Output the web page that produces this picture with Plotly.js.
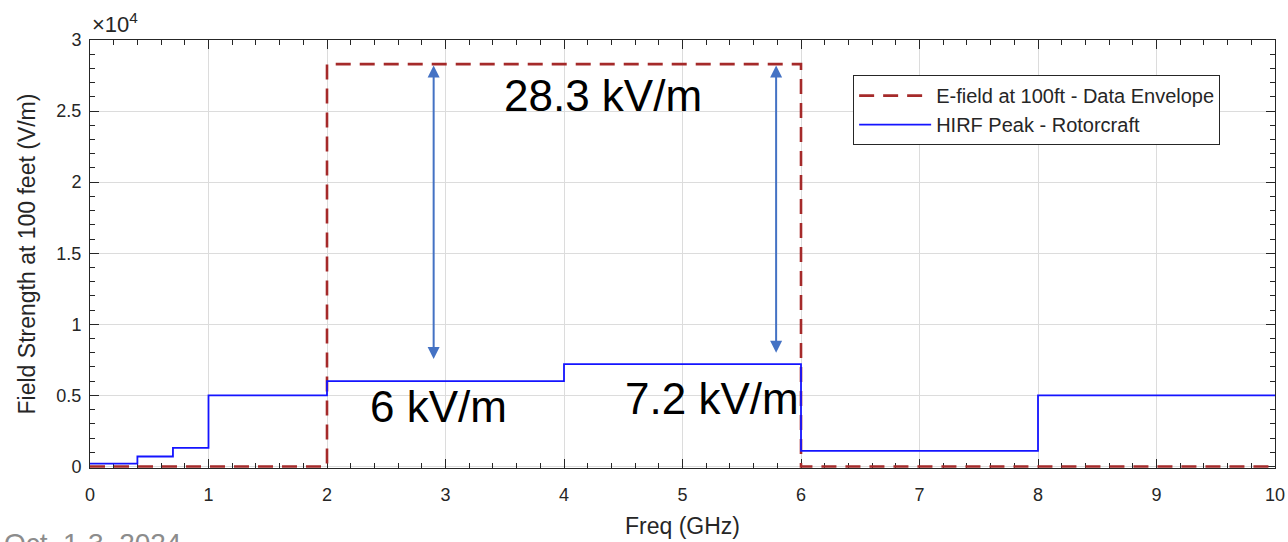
<!DOCTYPE html>
<html>
<head>
<meta charset="utf-8">
<script src="https://cdn.plot.ly/plotly-3.0.1.min.js"></script>
<style>html,body{margin:0;padding:0;background:#fff;}#chart{width:1288px;height:542px;}</style>
</head>
<body>
<div id="chart"></div>
<script>
// Data
const envelopeFreq = [0, 2, 6, 10];
const envelopeField = [0, 28300, 0, 0];
const hirfFreq = [0, 0.4, 0.7, 1, 2, 4, 6, 8, 10];
const hirfField = [200, 700, 1300, 5000, 6000, 7200, 1100, 5000, 5000];
const yTickVals = [0, 5000, 10000, 15000, 20000, 25000, 30000];
const yTickText = ['0', '0.5', '1', '1.5', '2', '2.5', '3'];
const xTickVals = [0,1,2,3,4,5,6,7,8,9,10];

const axisColor = '#262626';
const traces = [
  {x: envelopeFreq, y: envelopeField, type: 'scatter', mode: 'lines', cliponaxis: false, line: {shape: 'hv', color: '#A52A2A', width: 2.6, dash: '15px,9px'}, name: 'E-field at 100ft - Data Envelope'},
  {x: hirfFreq, y: hirfField, type: 'scatter', mode: 'lines', line: {shape: 'hv', color: '#1414ff', width: 1.8}, name: 'HIRF Peak - Rotorcraft'}
];

const arrowColor = '#4472C4';
function dblArrow(x, y0, y1) {
  return {x: x, y: y1, ax: x, ay: y0, xref: 'x', yref: 'y', axref: 'x', ayref: 'y', text: '', showarrow: true,
    arrowhead: 2, startarrowhead: 2, arrowside: 'end+start', arrowsize: 1.2, startarrowsize: 1.2, arrowwidth: 2, arrowcolor: arrowColor};
}
const bigFont = {family: 'Liberation Sans, Arial, sans-serif', size: 44, color: '#000'};

const layout = {
  width: 1288, height: 542,
  margin: {l: 90, r: 13, t: 40, b: 74},
  paper_bgcolor: '#fff', plot_bgcolor: '#fff',
  font: {family: 'Liberation Sans, Arial, sans-serif', color: axisColor},
  showlegend: true,
  legend: {x: 0.644, y: 0.918, xanchor: 'left', yanchor: 'top', bgcolor: '#fff', bordercolor: axisColor, borderwidth: 1,
    font: {size: 20, color: axisColor}, tracegroupgap: 0, itemwidth: 72},
  xaxis: {range: [0, 10], tickvals: xTickVals, ticks: 'inside', ticklen: 9, tickcolor: axisColor, showline: true, linecolor: axisColor, linewidth: 1, mirror: 'ticks',
    layer: 'below traces', ticklabelstandoff: 10,
    showgrid: true, gridcolor: '#dcdcdc', zeroline: false, tickfont: {size: 18, color: axisColor},
    minor: {dtick: 0.2, ticks: 'inside', ticklen: 5, tickcolor: axisColor, showgrid: false},
    title: {text: 'Freq (GHz)', font: {size: 23, color: axisColor}, standoff: 14}},
  yaxis: {range: [-110, 30000], tickvals: yTickVals, ticktext: yTickText, ticks: 'inside', ticklen: 9, tickcolor: axisColor, showline: true, linecolor: axisColor, linewidth: 1, mirror: 'ticks',
    layer: 'below traces', ticklabelstandoff: 4,
    showgrid: true, gridcolor: '#dcdcdc', zeroline: false, tickfont: {size: 18, color: axisColor},
    minor: {dtick: 1000, ticks: 'inside', ticklen: 5, tickcolor: axisColor, showgrid: false},
    title: {text: 'Field Strength at 100 feet (V/m)', font: {size: 23, color: axisColor}, standoff: 14}},
  annotations: [
    dblArrow(2.9, 7450, 28200),
    dblArrow(5.79, 7900, 28200),
    {x: 4.33, y: 26100, xref: 'x', yref: 'y', text: '28.3 kV/m', showarrow: false, font: bigFont},
    {x: 2.94, y: 4200, xref: 'x', yref: 'y', text: '6 kV/m', showarrow: false, font: bigFont},
    {x: 5.25, y: 4800, xref: 'x', yref: 'y', text: '7.2 kV/m', showarrow: false, font: bigFont},
    {x: 0, y: 1, xref: 'paper', yref: 'paper', xanchor: 'left', yanchor: 'bottom', yshift: 1, text: '×10<sup>4</sup>', showarrow: false, font: {size: 22, color: axisColor}},
    {x: 0, y: 0, xref: 'paper', yref: 'paper', xanchor: 'left', yanchor: 'top', xshift: -88, yshift: -58, text: 'Oct. 1-3, 2024', showarrow: false, font: {size: 28, color: '#8c8c8c'}}
  ]
};
Plotly.newPlot('chart', traces, layout, {displayModeBar: false, staticPlot: true});
</script>
</body>
</html>
